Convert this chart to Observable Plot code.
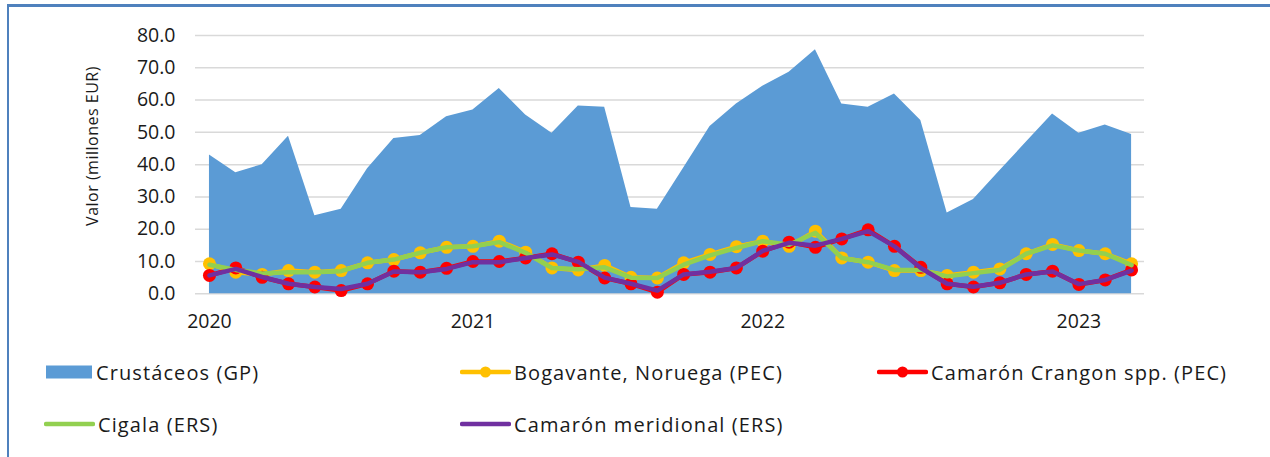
<!DOCTYPE html>
<html>
<head>
<meta charset="utf-8">
<script src="https://cdn.jsdelivr.net/npm/d3@7"></script>
<script src="https://cdn.jsdelivr.net/npm/@observablehq/plot@0.6"></script>
<style>
  body { margin: 0; background: #fff; }
  #wrap { position: relative; width: 1270px; height: 457px; overflow: hidden; font-family: "Open Sans", sans-serif; color: #1a1a1a; }
  #wrap svg { position: absolute; left: 0; top: 0; }
  .bt { position: absolute; left: 7px; top: 4px; width: 1263px; height: 3px; background: #4F81BD; }
  .bl { position: absolute; left: 7px; top: 4px; width: 2px; height: 453px; background: #4F81BD; }
  .ytitle { position: absolute; left: 92px; top: 146px; transform: translate(-50%, -50%) rotate(-90deg); font-size: 16px; letter-spacing: 0.5px; white-space: nowrap; }
  .leg { position: absolute; height: 30px; display: flex; align-items: center; font-size: 20px; letter-spacing: 1.1px; white-space: nowrap; }
  .leg svg { position: static !important; margin-right: 3px; }
</style>
</head>
<body>
<div id="wrap">
  <div class="bt"></div>
  <div class="bl"></div>
</div>
<script>
// ---- data (millones EUR) ----
const monthIndex = d3.range(36);
const crustaceos = [43.0, 37.5, 40.0, 48.8, 24.2, 26.2, 38.7, 48.1, 49.0, 54.8, 56.9, 63.6,
                    55.4, 49.7, 58.2, 57.8, 26.7, 26.2, 39.0, 51.8, 58.8, 64.3, 68.6, 75.6,
                    58.8, 57.8, 61.9, 53.7, 25.0, 29.2, 38.1, 46.9, 55.7, 49.7, 52.3, 49.3];
const bogavante = [9.3, 6.7, 6.0, 7.2, 6.7, 7.2, 9.6, 10.6, 12.7, 14.4, 14.7, 16.3,
                   12.9, 8.0, 7.4, 8.8, 5.1, 4.9, 9.6, 12.2, 14.6, 16.3, 14.7, 19.4,
                   11.1, 9.8, 7.2, 7.2, 5.7, 6.7, 7.7, 12.4, 15.3, 13.4, 12.4, 9.3];
const cangron = [5.7, 8.0, 5.1, 3.1, 2.1, 1.0, 3.1, 7.0, 6.7, 7.9, 10.0, 10.0,
                 11.1, 12.4, 9.8, 4.9, 3.1, 0.5, 6.0, 6.7, 8.0, 13.2, 16.0, 14.4,
                 17.0, 19.8, 14.7, 8.2, 3.1, 2.1, 3.4, 6.0, 7.0, 2.9, 4.3, 7.4];
const cigala = [9.0, 7.4, 6.3, 6.7, 6.7, 7.0, 9.6, 10.6, 12.7, 14.4, 14.7, 16.0,
                12.7, 8.0, 7.6, 8.2, 5.0, 4.9, 9.0, 11.9, 14.2, 16.3, 15.2, 18.9,
                11.1, 9.8, 7.4, 7.4, 5.4, 6.4, 7.4, 12.4, 15.0, 13.4, 12.4, 8.9];
const meridional = [5.7, 7.7, 5.2, 3.1, 2.1, 1.5, 3.1, 6.9, 6.7, 7.7, 9.8, 9.8,
                    11.1, 12.2, 9.9, 5.0, 3.1, 1.0, 6.0, 6.8, 8.0, 13.3, 15.8, 14.9,
                    17.0, 19.4, 14.7, 8.0, 3.1, 2.2, 3.4, 6.0, 6.9, 3.0, 4.3, 7.2];
const yTicks = [0, 10, 20, 30, 40, 50, 60, 70, 80];
const yearTickIndex = [0, 10, 21, 33];
const yearLabels = ["2020", "2021", "2022", "2023"];
const seriesNames = ["Crustáceos (GP)", "Bogavante, Noruega (PEC)", "Camarón Crangon spp. (PEC)",
                     "Cigala (ERS)", "Camarón meridional (ERS)"];
const seriesColors = ["#5B9BD5", "#FFC000", "#FF0000", "#92D050", "#7030A0"];

const rows = monthIndex.map(i => ({
  i, crustaceos: crustaceos[i], bogavante: bogavante[i], cangron: cangron[i],
  cigala: cigala[i], meridional: meridional[i]
}));

const chart = Plot.plot({
  width: 1270,
  height: 340,
  marginLeft: 195,
  marginRight: 126,
  marginTop: 35,
  marginBottom: 46.7,
  style: { fontFamily: "Open Sans, sans-serif", fontSize: "19.5px", color: "#1a1a1a", background: "transparent" },
  x: { domain: [-0.53, 35.49] },
  y: { domain: [0, 80] },
  marks: [
    Plot.ruleY(yTicks, { stroke: "#d9d9d9", strokeWidth: 1.5 }),
    Plot.areaY(rows, { x: "i", y: "crustaceos", fill: seriesColors[0] }),
    Plot.lineY(rows, { x: "i", y: "bogavante", stroke: seriesColors[1], strokeWidth: 4.5 }),
    Plot.dot(rows, { x: "i", y: "bogavante", r: 6.5, fill: seriesColors[1] }),
    Plot.lineY(rows, { x: "i", y: "cangron", stroke: seriesColors[2], strokeWidth: 4.5 }),
    Plot.dot(rows, { x: "i", y: "cangron", r: 6.5, fill: seriesColors[2] }),
    Plot.lineY(rows, { x: "i", y: "cigala", stroke: seriesColors[3], strokeWidth: 4.5 }),
    Plot.lineY(rows, { x: "i", y: "meridional", stroke: seriesColors[4], strokeWidth: 4.5 }),
    Plot.axisY({ ticks: yTicks, tickFormat: d => d.toFixed(1), tickSize: 0, tickPadding: 20, label: null, fill: "#1a1a1a" }),
    Plot.axisX({ ticks: yearTickIndex, tickFormat: d => yearLabels[yearTickIndex.indexOf(d)], tickSize: 0, tickPadding: 20, label: null, fill: "#1a1a1a" })
  ]
});
const wrap = document.getElementById("wrap");
wrap.appendChild(chart);

const yt = document.createElement("div");
yt.className = "ytitle";
yt.textContent = "Valor (millones EUR)";
wrap.appendChild(yt);

// legend
const legPos = [
  { left: 46, cy: 372, kind: "area" },
  { left: 460, cy: 372, kind: "marker" },
  { left: 877, cy: 372, kind: "marker" },
  { left: 44, cy: 424, kind: "line" },
  { left: 460, cy: 424, kind: "line" }
];
seriesNames.forEach((name, k) => {
  const p = legPos[k];
  const d = document.createElement("div");
  d.className = "leg";
  d.style.left = p.left + "px";
  d.style.top = (p.cy - 15) + "px";
  const c = seriesColors[k];
  let sw;
  if (p.kind === "area") {
    sw = `<svg width="47" height="14"><rect x="0" y="0.5" width="46" height="13" fill="${c}"/></svg>`;
  } else if (p.kind === "marker") {
    sw = `<svg width="51" height="14"><line x1="2" y1="7" x2="49" y2="7" stroke="${c}" stroke-width="4.5" stroke-linecap="round"/><circle cx="25.5" cy="7" r="5.5" fill="${c}"/></svg>`;
  } else {
    sw = `<svg width="51" height="14"><line x1="2" y1="7" x2="49" y2="7" stroke="${c}" stroke-width="4.5" stroke-linecap="round"/></svg>`;
  }
  d.innerHTML = sw + `<span>${name}</span>`;
  wrap.appendChild(d);
});
</script>
</body>
</html>
